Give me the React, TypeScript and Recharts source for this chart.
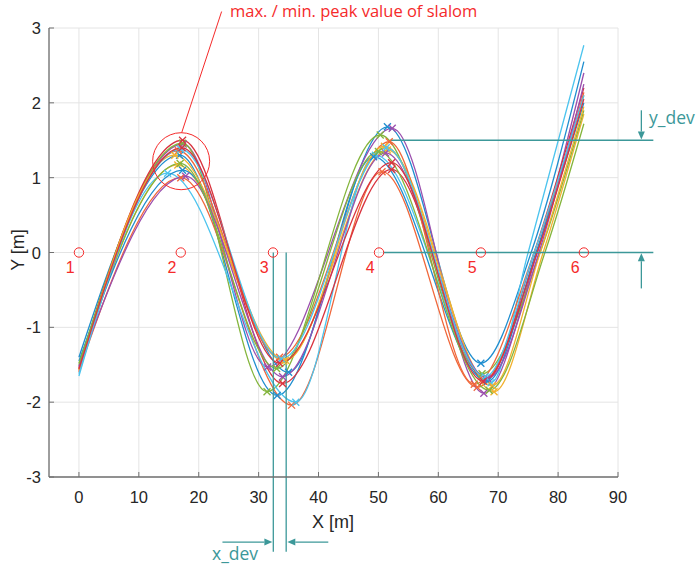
import React from "react";
import {
  ComposedChart,
  Line,
  Scatter,
  XAxis,
  YAxis,
  CartesianGrid,
  ReferenceLine,
  ReferenceDot,
} from "recharts";

// tick labels
const xTicks = [0, 10, 20, 30, 40, 50, 60, 70, 80, 90];
const yTicks = [-3, -2, -1, 0, 1, 2, 3];

// slalom cones
const coneX = [0, 17, 32.4, 50.1, 67.1, 84.3];
const coneLabel = ["1", "2", "3", "4", "5", "6"];

// one entry per run
const runColor = [
  "#1f8ecf", "#f0673a", "#f2b12e", "#9b4fae", "#84b53c", "#4cc4ee", "#d9343f",
  "#1f8ecf", "#f0673a", "#f2b12e", "#9b4fae", "#84b53c", "#4cc4ee", "#d9343f",
];
const startY = [-1.4, -1.58, -1.55, -1.52, -1.5, -1.65, -1.55, -1.45, -1.6, -1.57, -1.53, -1.48, -1.62, -1.56];
const peak1X = [16.8, 17.0, 16.5, 17.4, 17.3, 14.8, 17.3, 17.3, 16.6, 16.0, 17.8, 16.9, 17.0, 17.2];
const peak1Y = [1.3, 1.0, 1.17, 1.45, 1.46, 1.06, 1.5, 1.1, 1.36, 1.3, 1.02, 1.19, 1.38, 1.4];
const trough1X = [33.1, 35.5, 34.2, 31.5, 31.4, 36.2, 34.0, 35.0, 33.5, 34.5, 34.0, 33.0, 33.8, 33.5];
const trough1Y = [-1.91, -2.04, -1.45, -1.53, -1.86, -2.0, -1.75, -1.6, -1.4, -1.44, -1.66, -1.55, -1.42, -1.48];
const peak2X = [51.5, 50.6, 51.5, 52.3, 50.3, 49.5, 52.2, 49.2, 51.8, 51.0, 51.2, 50.0, 51.3, 52.2];
const peak2Y = [1.68, 1.08, 1.37, 1.66, 1.57, 1.3, 1.11, 1.28, 1.48, 1.42, 1.33, 1.35, 1.4, 1.2];
const trough2X = [67.1, 66.5, 69.3, 67.6, 67.3, 68.8, 68.0, 68.2, 66.0, 69.0, 68.2, 68.5, 67.8, 67.5];
const trough2Y = [-1.48, -1.8, -1.86, -1.88, -1.62, -1.74, -1.7, -1.72, -1.76, -1.78, -1.68, -1.84, -1.66, -1.72];
const crossX = [75.5, 76.5, 77.5, 76.5, 77.0, 75.0, 76.0, 76.3, 76.0, 77.0, 76.8, 77.8, 76.0, 76.5];
const endX = 84.3;
const endY = [2.55, 2.14, 1.85, 2.4, 1.9, 2.77, 2.2, 2.0, 2.1, 1.95, 2.25, 1.72, 2.1, 2.05];

const runs = runColor.map((color, i) => ({
  color,
  line: [
    { x: 0, y: startY[i] },
    { x: peak1X[i], y: peak1Y[i] },
    { x: trough1X[i], y: trough1Y[i] },
    { x: peak2X[i], y: peak2Y[i] },
    { x: trough2X[i], y: trough2Y[i] },
    { x: crossX[i], y: 0 },
    { x: endX, y: endY[i] },
  ],
  peaks: [
    { x: peak1X[i], y: peak1Y[i] },
    { x: trough1X[i], y: trough1Y[i] },
    { x: peak2X[i], y: peak2Y[i] },
    { x: trough2X[i], y: trough2Y[i] },
  ],
}));

const cones = coneX.map((x, i) => ({ x, y: 0, label: coneLabel[i] }));

const AXIS = "#707070";
const RED = "#f52a2a";
const TEAL = "#3c9899";
const TICK_FONT = "'Liberation Sans', Arial, sans-serif";
const NOTE_FONT = "'Open Sans', sans-serif";
const X_MARGIN = 12;
const Y_MARGIN = 8;

const XTick = (p: any) => (
  <g>
    <line x1={p.x} y1={p.y - X_MARGIN} x2={p.x} y2={p.y - X_MARGIN - 5} stroke={AXIS} />
    <text x={p.x} y={p.y + 14} textAnchor="middle" fontSize={16.5} fill="#262626" fontFamily={TICK_FONT}>
      {p.payload.value}
    </text>
  </g>
);

const YTick = (p: any) => (
  <g>
    <line x1={p.x + Y_MARGIN} y1={p.y} x2={p.x + Y_MARGIN + 5} y2={p.y} stroke={AXIS} />
    <text x={p.x} y={p.y + 6} textAnchor="end" fontSize={16.5} fill="#262626" fontFamily={TICK_FONT}>
      {p.payload.value}
    </text>
  </g>
);

const crossShape = (color: string) => (p: any) => (
  <g stroke={color} strokeWidth={1.3}>
    <line x1={p.cx - 3.5} y1={p.cy - 3.5} x2={p.cx + 3.5} y2={p.cy + 3.5} />
    <line x1={p.cx - 3.5} y1={p.cy + 3.5} x2={p.cx + 3.5} y2={p.cy - 3.5} />
  </g>
);

const ConeShape = (p: any) => (
  <g>
    <circle cx={p.cx} cy={p.cy} r={4.7} fill="none" stroke={RED} strokeWidth={1} />
    <text x={p.cx - 8.7} y={p.cy + 20} textAnchor="middle" fontSize={16} fill={RED} fontFamily={TICK_FONT}>
      {p.payload.label}
    </text>
  </g>
);

const arrowShape = (head: boolean) => (p: any) => {
  const { x1, y1, x2, y2 } = p;
  const len = Math.hypot(x2 - x1, y2 - y1) || 1;
  const ux = (x2 - x1) / len;
  const uy = (y2 - y1) / len;
  const bx = x2 - ux * 8;
  const by = y2 - uy * 8;
  return (
    <g>
      <line x1={x1} y1={y1} x2={head ? bx : x2} y2={head ? by : y2} stroke={TEAL} strokeWidth={1.3} />
      {head && (
        <polygon
          points={`${x2},${y2} ${bx - uy * 3.5},${by + ux * 3.5} ${bx + uy * 3.5},${by - ux * 3.5}`}
          fill={TEAL}
        />
      )}
    </g>
  );
};

export default function App() {
  return (
    <div style={{ position: "absolute", left: 0, top: 0, width: 699, height: 564, background: "#fff" }}>
      <ComposedChart width={699} height={564} margin={{ top: 28, right: 81, bottom: 27, left: 0 }}>
        <CartesianGrid stroke="#e4e4e4" strokeWidth={1} />
        <XAxis
          type="number"
          dataKey="x"
          domain={[-5, 90]}
          ticks={xTicks}
          allowDataOverflow
          height={60}
          tickSize={0}
          tickLine={false}
          tickMargin={X_MARGIN}
          tick={XTick}
          axisLine={{ stroke: AXIS, strokeWidth: 1.3 }}
        />
        <YAxis
          type="number"
          dataKey="y"
          domain={[-3, 3]}
          ticks={yTicks}
          allowDataOverflow
          width={49}
          tickSize={0}
          tickLine={false}
          tickMargin={Y_MARGIN}
          tick={YTick}
          axisLine={{ stroke: AXIS, strokeWidth: 1.3 }}
        />
        {runs.map((r, i) => (
          <Line
            key={"l" + i}
            data={r.line}
            dataKey="y"
            type="monotone"
            stroke={r.color}
            strokeWidth={1.3}
            dot={false}
            activeDot={false}
            isAnimationActive={false}
          />
        ))}
        {runs.map((r, i) => (
          <Scatter key={"s" + i} data={r.peaks} shape={crossShape(r.color)} isAnimationActive={false} />
        ))}
        <Scatter data={cones} shape={ConeShape} isAnimationActive={false} />

        <ReferenceDot x={17.06} y={1.22} r={28.5} fill="none" stroke={RED} strokeWidth={1} ifOverflow="visible" />
        <ReferenceLine segment={[{ x: 23.82, y: 3.22 }, { x: 17.15, y: 1.6 }]} stroke={RED} strokeWidth={1} ifOverflow="visible" />

        <ReferenceLine segment={[{ x: 32.45, y: 0 }, { x: 32.45, y: -4.0 }]} shape={arrowShape(false)} ifOverflow="visible" />
        <ReferenceLine segment={[{ x: 34.6, y: 0 }, { x: 34.6, y: -4.0 }]} shape={arrowShape(false)} ifOverflow="visible" />
        <ReferenceLine segment={[{ x: 23.96, y: -3.87 }, { x: 32.29, y: -3.87 }]} shape={arrowShape(true)} ifOverflow="visible" />
        <ReferenceLine segment={[{ x: 41.63, y: -3.87 }, { x: 34.79, y: -3.87 }]} shape={arrowShape(true)} ifOverflow="visible" />

        <ReferenceLine segment={[{ x: 52, y: 1.5 }, { x: 95.9, y: 1.5 }]} shape={arrowShape(false)} ifOverflow="visible" />
        <ReferenceLine segment={[{ x: 50.87, y: 0 }, { x: 95.9, y: 0 }]} shape={arrowShape(false)} ifOverflow="visible" />
        <ReferenceLine segment={[{ x: 93.9, y: 1.9 }, { x: 93.9, y: 1.51 }]} shape={arrowShape(true)} ifOverflow="visible" />
        <ReferenceLine segment={[{ x: 93.9, y: -0.48 }, { x: 93.9, y: -0.01 }]} shape={arrowShape(true)} ifOverflow="visible" />
      </ComposedChart>

      <div style={{ position: "absolute", left: 230, top: 3, fontFamily: NOTE_FONT, fontSize: 16.5, lineHeight: 1, color: RED, whiteSpace: "nowrap" }}>
        max. / min. peak value of slalom
      </div>
      <div style={{ position: "absolute", left: 212, top: 545, fontFamily: NOTE_FONT, fontSize: 17.5, lineHeight: 1, color: TEAL }}>
        x_dev
      </div>
      <div style={{ position: "absolute", left: 649, top: 109, fontFamily: NOTE_FONT, fontSize: 17.5, lineHeight: 1, color: TEAL }}>
        y_dev
      </div>
      <div style={{ position: "absolute", left: 333, top: 513, transform: "translateX(-50%)", fontFamily: TICK_FONT, fontSize: 18, lineHeight: 1, color: "#262626", whiteSpace: "nowrap" }}>
        X [m]
      </div>
      <div style={{ position: "absolute", left: 18, top: 250, transform: "translate(-50%, -50%) rotate(-90deg)", fontFamily: TICK_FONT, fontSize: 18, lineHeight: 1, color: "#262626", whiteSpace: "nowrap" }}>
        Y [m]
      </div>
    </div>
  );
}
